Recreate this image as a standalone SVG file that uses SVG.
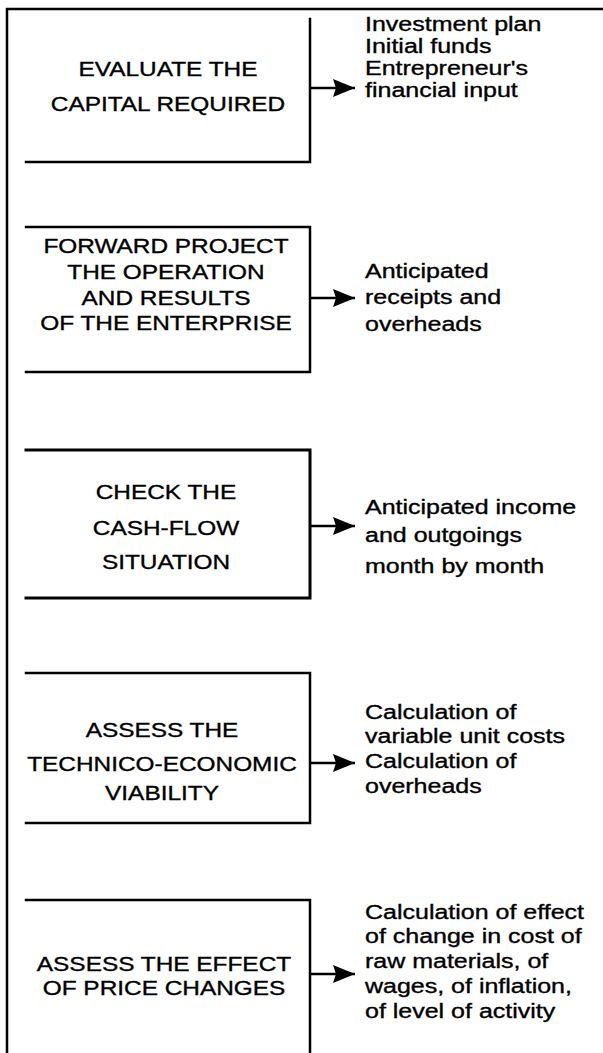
<svg xmlns="http://www.w3.org/2000/svg" width="603" height="1053" viewBox="0 0 603 1053">
<defs>
<style>
.t{font-family:"Liberation Sans",Arial,sans-serif;font-size:20px;fill:#000;stroke:#000;stroke-width:0.35}
.c{text-anchor:middle}
.ln{stroke:#000;stroke-width:2.5;fill:none;stroke-linecap:square}
.cn{stroke:#000;stroke-width:2.5;fill:none}
</style>
<marker id="ah" markerUnits="userSpaceOnUse" markerWidth="24" markerHeight="20" refX="22" refY="9" orient="auto">
<path d="M0,0 L22,9 L0,18 L3,9 Z" fill="#000"/>
</marker>
</defs>
<rect width="603" height="1053" fill="#fff"/>
<g id="frame">
<path class="ln" d="M7,1053 V9 H603"/>
</g>
<g id="node1">
<path class="ln" d="M310,19 V162 H26"/>
<g class="t c" transform="translate(168 0) scale(1.22 1)">
<text x="0" y="76">EVALUATE THE</text>
<text x="0" y="111">CAPITAL REQUIRED</text>
</g>
</g>
<g id="out1">
<g class="t" transform="translate(365 0) scale(1.25 1)">
<text x="0" y="31">Investment plan</text>
<text x="0" y="53">Initial funds</text>
<text x="0" y="75">Entrepreneur's</text>
<text x="0" y="97">financial input</text>
</g>
</g>
<g id="node2">
<path class="ln" d="M26,227 H310 V372 H26"/>
<g class="t c" transform="translate(166 0) scale(1.22 1)">
<text x="0" y="253">FORWARD PROJECT</text>
<text x="0" y="279">THE OPERATION</text>
<text x="0" y="305">AND RESULTS</text>
<text x="0" y="330">OF THE ENTERPRISE</text>
</g>
</g>
<g id="out2">
<g class="t" transform="translate(365 0) scale(1.25 1)">
<text x="0" y="278">Anticipated</text>
<text x="0" y="304">receipts and</text>
<text x="0" y="331">overheads</text>
</g>
</g>
<g id="node3">
<path class="ln" d="M26,450 H310 V598 H26" style="stroke-width:3"/>
<g class="t c" transform="translate(166 0) scale(1.22 1)">
<text x="0" y="499">CHECK THE</text>
<text x="0" y="535">CASH-FLOW</text>
<text x="0" y="569">SITUATION</text>
</g>
</g>
<g id="out3">
<g class="t" transform="translate(365 0) scale(1.25 1)">
<text x="0" y="514">Anticipated income</text>
<text x="0" y="542">and outgoings</text>
<text x="0" y="573">month by month</text>
</g>
</g>
<g id="node4">
<path class="ln" d="M26,673 H310 V823 H26"/>
<g class="t c" transform="translate(162 0) scale(1.22 1)">
<text x="0" y="737">ASSESS THE</text>
<text x="0" y="771">TECHNICO-ECONOMIC</text>
<text x="0" y="800">VIABILITY</text>
</g>
</g>
<g id="out4">
<g class="t" transform="translate(365 0) scale(1.25 1)">
<text x="0" y="719">Calculation of</text>
<text x="0" y="743">variable unit costs</text>
<text x="0" y="768">Calculation of</text>
<text x="0" y="793">overheads</text>
</g>
</g>
<g id="node5">
<path class="ln" d="M26,900 H310 V1053"/>
<g class="t c" transform="translate(164 0) scale(1.22 1)">
<text x="0" y="971">ASSESS THE EFFECT</text>
<text x="0" y="995">OF PRICE CHANGES</text>
</g>
</g>
<g id="out5">
<g class="t" transform="translate(365 0) scale(1.25 1)">
<text x="0" y="919">Calculation of effect</text>
<text x="0" y="943">of change in cost of</text>
<text x="0" y="968">raw materials, of</text>
<text x="0" y="993">wages, of inflation,</text>
<text x="0" y="1018">of level of activity</text>
</g>
</g>
<g id="connectors">
<path class="cn" d="M310,88 H355" marker-end="url(#ah)"/>
<path class="cn" d="M310,298 H355" marker-end="url(#ah)"/>
<path class="cn" d="M310,526 H355" marker-end="url(#ah)"/>
<path class="cn" d="M310,763 H355" marker-end="url(#ah)"/>
<path class="cn" d="M310,974 H355" marker-end="url(#ah)"/>
</g>
</svg>
